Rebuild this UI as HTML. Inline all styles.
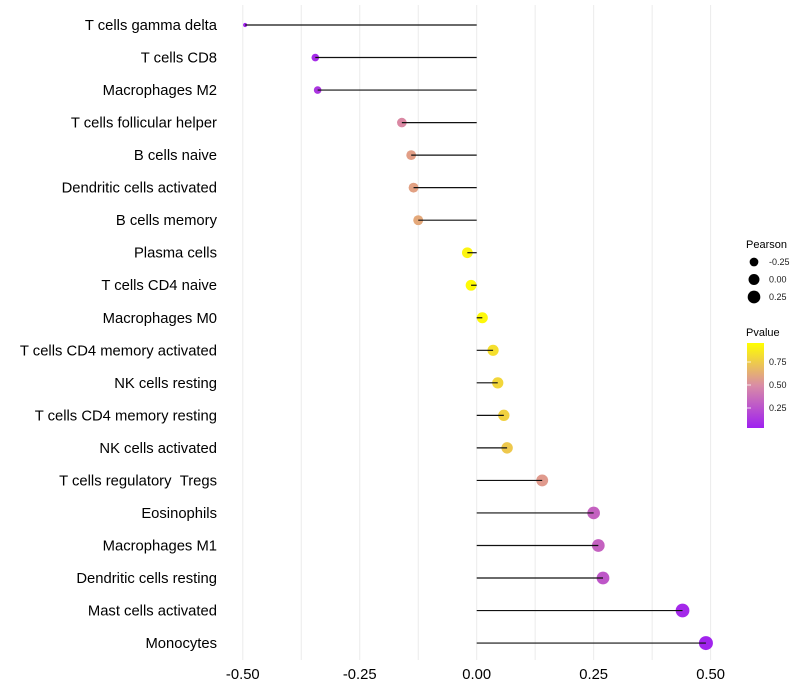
<!DOCTYPE html>
<html><head><meta charset="utf-8"><style>
body{margin:0;background:#fff;}
svg{display:block;font-family:"Liberation Sans",sans-serif;}
</style></head><body>
<svg id="chart" width="800" height="700" viewBox="0 0 800 700">
<defs><linearGradient id="pg" x1="0" y1="1" x2="0" y2="0">
<stop offset="0" stop-color="#9f20f0"/><stop offset="0.5" stop-color="#d98ca6"/><stop offset="1" stop-color="#ffff00"/>
</linearGradient></defs>
<g id="grid"></g>
<g id="pts"></g>
<g id="marks"></g>
<g id="ylab"></g>
<g id="xlab"></g>
<g>
<text x="746" y="248" font-size="11">Pearson</text>
<g id="sizeLeg"></g>
</g>
<g>
<text x="746" y="336" font-size="11">Pvalue</text>
<rect x="747" y="343" width="17" height="85" fill="url(#pg)"/>
<g id="colLeg"></g>
</g>
</svg>
<script>
const categories=["T cells gamma delta","T cells CD8","Macrophages M2","T cells follicular helper","B cells naive","Dendritic cells activated","B cells memory","Plasma cells","T cells CD4 naive","Macrophages M0","T cells CD4 memory activated","NK cells resting","T cells CD4 memory resting","NK cells activated","T cells regulatory \u00a0Tregs","Eosinophils","Macrophages M1","Dendritic cells resting","Mast cells activated","Monocytes"];
const pearson=[-0.495,-0.345,-0.34,-0.16,-0.14,-0.135,-0.125,-0.02,-0.012,0.012,0.035,0.045,0.058,0.065,0.14,0.25,0.26,0.27,0.44,0.49];
const pvalues=[0.02,0.05,0.1,0.48,0.58,0.59,0.62,0.95,0.98,0.97,0.86,0.82,0.8,0.76,0.56,0.3,0.3,0.25,0.04,0.02];
const xTicks=[-0.5,-0.25,0,0.25,0.5];
const xTickLabels=["-0.50","-0.25","0.00","0.25","0.50"];
const sizeLegVals=[-0.25,0,0.25];
const sizeLegLabels=["-0.25","0.00","0.25"];
const colLegVals=[0.75,0.5,0.25];
const colLegLabels=["0.75","0.50","0.25"];

const NS="http://www.w3.org/2000/svg";
const x=v=>476.7+v*467.8;
const y=i=>25+i*32.53;
const r=v=>1.7+5.3*Math.sqrt(Math.max(0,v+0.5)/0.99);
function col(p){
  const s=[[0,[159,32,240]],[0.5,[220,140,160]],[1,[255,255,0]]];
  let a=s[0],b=s[1]; if(p>0.5){a=s[1];b=s[2];}
  const t=(p-a[0])/(b[0]-a[0]);
  const c=a[1].map((v,k)=>Math.round(v+(b[1][k]-v)*t));
  return `rgb(${c.join(',')})`;
}
function mk(tag,attrs,parent){const e=document.createElementNS(NS,tag);for(const k in attrs)e.setAttribute(k,attrs[k]);document.getElementById(parent).appendChild(e);return e;}
for(let v=-0.5;v<=0.5001;v+=0.125){
  const g=mk('line',{x1:x(v),x2:x(v),y1:5,y2:660,stroke:'#ebebeb','stroke-width':1},'grid');
  
  
}
categories.forEach((c,i)=>{
  const p=mk('circle',{cx:x(pearson[i]),cy:y(i),r:r(pearson[i]),fill:col(pvalues[i])},'pts');
  
  
  const l=mk('line',{x1:x(0),x2:x(pearson[i]),y1:y(i),y2:y(i),stroke:'#111','stroke-width':1.2},'marks');
  
  
  const t=mk('text',{x:217,y:y(i)+5,'text-anchor':'end','font-size':14.8,fill:'#000'},'ylab');
  t.textContent=c;
  
  
});
xTicks.forEach((v,i)=>{
  const t=mk('text',{x:x(v),y:679,'text-anchor':'middle','font-size':14.8,fill:'#000'},'xlab');
  t.textContent=xTickLabels[i];
  
  
});
sizeLegVals.forEach((v,i)=>{
  const cy=262+i*17.5;
  const c=mk('circle',{cx:754,cy:cy,r:r(v),fill:'#000'},'sizeLeg');
  
  
  const t=mk('text',{x:769,y:cy+3,'font-size':9,fill:'#1a1a1a'},'sizeLeg');
  t.textContent=sizeLegLabels[i];
  
  
});
colLegVals.forEach((v,i)=>{
  const cy=431-v*92;
  const t=mk('text',{x:769,y:cy+3,'font-size':9,fill:'#1a1a1a'},'colLeg');
  t.textContent=colLegLabels[i];
  
  
  const l=mk('line',{x1:747,x2:751,y1:cy,y2:cy,stroke:'#fff','stroke-width':0.8},'colLeg');
  
  
});
</script>
</body></html>
